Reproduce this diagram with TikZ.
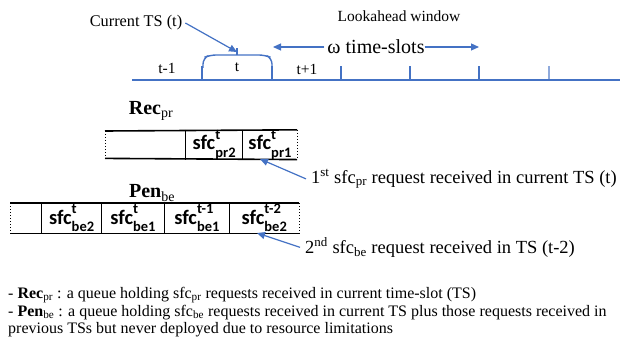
\documentclass[tikz,border=0pt]{standalone}
\usepackage{fontspec,amsmath}
\setmainfont{Liberation Serif}
\newfontfamily\cellfont{Carlito}
\usetikzlibrary{arrows.meta,positioning,calc}
\definecolor{tsblue}{HTML}{4472C4}
\newcommand{\fs}[1]{\fontsize{#1}{#1}\selectfont}
\newcommand{\sfcq}[2]{sfc\rlap{\raisebox{1.05ex}{\fs{14.5}#1}}\raisebox{-0.75ex}{\fs{14.5}#2}}
\newcommand{\lo}[1]{$_{\text{#1}}$}
\tikzset{
  tl/.style={draw=tsblue,line width=1.4pt},
  ar/.style={-{Triangle[length=8pt,width=7pt]},draw=tsblue,fill=tsblue,line width=1.2pt},
  lbl/.style={inner sep=0pt,font=\fs{15.5}},
  big/.style={inner sep=0pt,font=\fs{20}},
  qname/.style={inner sep=0pt,font=\fs{20}},
  cell/.style={inner sep=0pt,font=\cellfont\bfseries\fs{20.5}},
  qline/.style={line width=1.6pt},
  qend/.style={dotted,line width=1pt},
  note/.style={inner sep=0pt,anchor=base west,font=\fs{18.5}},
  foot/.style={inner sep=0pt,anchor=base west,font=\fs{16}},
}

\begin{document}
\begin{tikzpicture}[x=1pt,y=-1pt]
\useasboundingbox (0,0) rectangle (634,339);

% time line
\draw[tl] (132,80) -- (620,80);
\foreach \x in {202,272,341,410,479} \draw[tl] (\x,80) -- (\x,66);
\draw[tl,opacity=.6] (549,80) -- (549,66);
\draw[tl,rounded corners=6pt] (203,68) -- (203,58) -- (210,55) -- (265,55) -- (272,58) -- (272,68);
\draw[tl] (237,55) -- (237,48);
\node[lbl] (tm1) at (167,68) {t-1};
\node[lbl] (t0) at (237,67) {t};
\node[lbl] (tp1) at (307,69) {t+1};

\node[lbl,font=\fs{16.3}] (cur) at (136,23) {Current TS (t)};
\coordinate (curtip) at (237,52);
\draw[ar] ($(cur.east)+(3,0)$) -- (curtip);

\node[lbl] (look) at (399,16) {Lookahead window};
\node[big] (omega) at (376,47) {ω time-slots};
\coordinate (lhs) at (273,47);
\coordinate (rhs) at (479,47);
\draw[ar] ($(omega.west)+(-3,0)$) -- (lhs);
\draw[ar] (omega.east) -- (rhs);

% Rec queue
\node[qname] (recq) at (151,111) {\textbf{Rec}\lo{pr}};
\node[cell,minimum width=80,minimum height=27,anchor=north west] (r0) at (105,131) {};
\node[cell,minimum width=57,minimum height=27,right=0pt of r0] (r2) {\sfcq{t}{pr2}};
\node[cell,minimum width=54,minimum height=27,right=0pt of r2] (r1) {\sfcq{t}{pr1}};
\draw[qline] (r0.north west) -- (r1.north east);
\draw[qline] (r0.south west) -- (r1.south east);
\draw[thick] (r2.north west) -- (r2.south west);
\draw[thick] (r1.north west) -- (r1.south west);
\draw[qend] (r0.north west) -- (r0.south west);
\draw[qend] (r1.north east) -- (r1.south east);

% Pen queue
\node[qname] (penq) at (152,193) {\textbf{Pen}\lo{be}};
\node[cell,minimum width=31,minimum height=30,anchor=north west] (p0) at (10,203) {};
\node[cell,minimum width=60,minimum height=30,right=0pt of p0] (p4) {\sfcq{t}{be2}};
\node[cell,minimum width=62,minimum height=30,right=0pt of p4] (p3) {\sfcq{t}{be1}};
\node[cell,minimum width=65,minimum height=30,right=0pt of p3] (p2) {\sfcq{t-1}{be1}};
\node[cell,minimum width=69,minimum height=30,right=0pt of p2] (p1) {\sfcq{t-2}{be2}};
\draw[qline] (p0.north west) -- (p1.north east);
\draw[qline] (p0.south west) -- (p1.south east);
\foreach \c in {p4,p3,p2,p1} \draw[thick] (\c.north west) -- (\c.south west);
\draw[qend] (p0.north west) -- (p0.south west);
\draw[qend] (p1.north east) -- (p1.south east);

% requests
\node[note] (n1) at (311,183) {1\textsuperscript{st} sfc\lo{pr} request received in current TS (t)};
\node[note] (n2) at (305,253) {2\textsuperscript{nd} sfc\lo{be} request received in TS (t-2)};
\coordinate (n1tip) at (260,159);
\coordinate (n2tip) at (257,233);
\draw[ar] ($(n1.west)+(-5,0)$) -- (n1tip);
\draw[ar] ($(n2.west)+(-5,0)$) -- (n2tip);

% legend
\node[foot] (f1) at (8,298) {- \textbf{Rec}\lo{pr} : a queue holding sfc\lo{pr} requests received in current time-slot (TS)};
\node[foot] (f2) at (8,316) {- \textbf{Pen}\lo{be} : a queue holding sfc\lo{be} requests received in current TS plus those requests received in};
\node[foot] (f3) at (8,333) {previous TSs but never deployed due to resource limitations};
\end{tikzpicture}
\end{document}
